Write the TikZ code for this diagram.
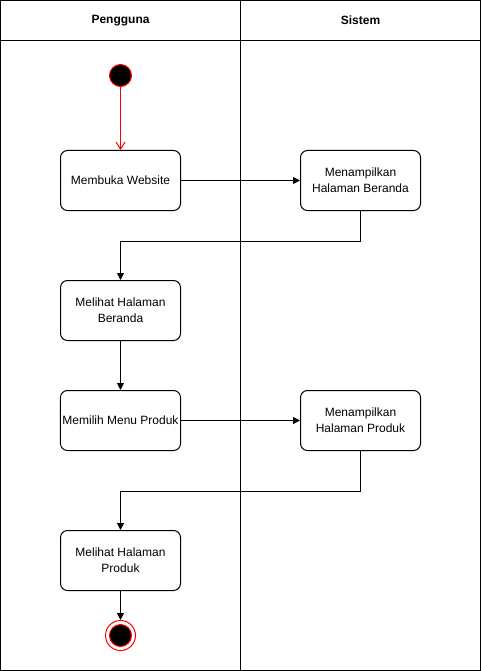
\documentclass[tikz,border=0pt]{standalone}
\usepackage{fontspec}
\setmainfont{Liberation Sans}
\usepackage{xcolor}
\definecolor{cMain}{HTML}{000000}
\definecolor{cStart}{HTML}{FF0000}
\usetikzlibrary{positioning,arrows.meta}
\tikzset{
  node-act/.style={draw=cMain,line width=1pt,rounded corners=7pt,
    minimum width=120pt,minimum height=60pt,align=center,inner sep=2pt,
    font=\fontsize{12}{16}\selectfont},
  node-lane/.style={font=\bfseries\fontsize{12}{14}\selectfont},
  node-start/.style={circle,draw=cStart,fill=black,line width=1pt,
    minimum size=22pt,inner sep=0pt},
  node-end/.style={circle,draw=cStart,fill=white,line width=1pt,
    minimum size=30pt,inner sep=0pt},
  frame/.style={draw=cMain,line width=1pt},
  arrow/.style={-{Triangle[length=7pt,width=7pt]},line width=1pt,draw=cMain},
  arrow-start/.style={-{Straight Barb[length=7pt,width=9pt]},line width=1pt,draw=cStart},
}

\begin{document}
\begin{tikzpicture}[x=1pt,y=-1pt]
  \useasboundingbox (-0.5,-0.5) rectangle (480.5,670.5);
  % swimlanes
  \draw[frame] (0,0) rectangle (480,670);
  \draw[frame] (0,40) -- (480,40);
  \draw[frame] (240,0) -- (240,670);
  \node[node-lane] (lane-user) at (120,20) {Pengguna};
  \node[node-lane] (lane-sys)  at (360,20) {Sistem};

  % aktivitas
  \node[node-start] (start) at (120,75) {};
  \node[node-act] (act-open)   at (120,180) {Membuka Website};
  \node[node-act] (sys-home)   at (360,180) {Menampilkan\\Halaman Beranda};
  \node[node-act] (act-home)   at (120,310) {Melihat Halaman\\Beranda};
  \node[node-act] (act-menu)   at (120,420) {Memilih Menu Produk};
  \node[node-act] (sys-prod)   at (360,420) {Menampilkan\\Halaman Produk};
  \node[node-act] (act-prod)   at (120,560) {Melihat Halaman\\Produk};
  \node[node-end] (end) at (120,635) {};
  \node[node-start] (end-dot) at (end) {};

  % alur
  \draw[arrow-start] (start) -- (act-open);
  \draw[arrow] (act-open) -- (sys-home);
  \draw[arrow] (sys-home.south) -- ++(0,30) -| (act-home.north);
  \draw[arrow] (act-home) -- (act-menu);
  \draw[arrow] (act-menu) -- (sys-prod);
  \draw[arrow] (sys-prod.south) -- ++(0,40) -| (act-prod.north);
  \draw[arrow] (act-prod) -- (end);
\end{tikzpicture}
\end{document}
